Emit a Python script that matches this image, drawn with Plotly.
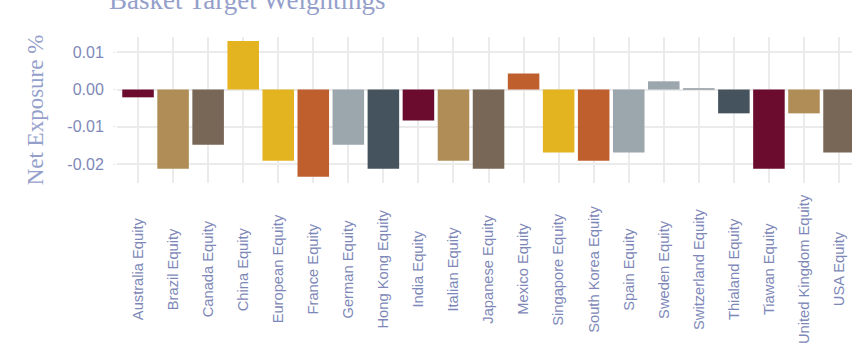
import plotly.graph_objects as go

categories = ["Australia Equity", "Brazil Equity", "Canada Equity", "China Equity",
              "European Equity", "France Equity", "German Equity", "Hong Kong Equity",
              "India Equity", "Italian Equity", "Japanese Equity", "Mexico Equity",
              "Singapore Equity", "South Korea Equity", "Spain Equity", "Sweden Equity",
              "Switzerland Equity", "Thialand Equity", "Tiawan Equity",
              "United Kingdom Equity", "USA Equity"]
values = [-0.0021, -0.0213, -0.0148, 0.0130, -0.0191, -0.0234, -0.0148, -0.0213,
          -0.0083, -0.0191, -0.0213, 0.0043, -0.0169, -0.0191, -0.0169, 0.0022,
          0.0002, -0.0064, -0.0213, -0.0064, -0.0169]
bar_colors = ["#6b0c2e", "#b08d57", "#786656", "#e3b420", "#e3b420", "#c05f2e",
              "#9ba6ad", "#45535e", "#6b0c2e", "#b08d57", "#786656", "#c05f2e",
              "#e3b420", "#c05f2e", "#9ba6ad", "#9ba6ad", "#a9b0b6", "#45535e",
              "#6b0c2e", "#b08d57", "#786656"]
y_tickvals = [0.01, 0.0, -0.01, -0.02]
y_ticktext = ["0.01", "0.00", "-0.01", "-0.02"]

text_color = "#7e88b8"
title_color = "#959fcb"

fig = go.Figure()
fig.add_trace(go.Bar(
    x=list(range(len(categories))), y=values,
    marker=dict(color=bar_colors, line=dict(width=0)),
    width=0.9, showlegend=False, hoverinfo="y",
))

for i, c in enumerate(categories):
    fig.add_annotation(x=i, xref="x", y=-0.59, yref="paper", text=c,
                       textangle=-90, showarrow=False, xanchor="center", yanchor="middle",
                       font=dict(family="Liberation Sans, Arial", size=14.7, color=text_color))

fig.add_annotation(x=0.0, xref="paper", y=1.0, yref="paper", yshift=37,
                   text="Basket Target Weightings", showarrow=False,
                   xanchor="left", yanchor="middle", xshift=-10,
                   font=dict(family="Liberation Serif, serif", size=27, color=title_color))

fig.update_layout(
    width=852, height=343,
    margin=dict(l=117, r=0, t=37, b=160),
    paper_bgcolor="white", plot_bgcolor="white",
    bargap=0.1,
    xaxis=dict(range=[-0.6, 20.37], tickmode="array", tickvals=list(range(len(categories))),
               showticklabels=False, showgrid=True, gridcolor="#ebebeb", gridwidth=1.5,
               zeroline=False, showline=False, fixedrange=True),
    yaxis=dict(range=[-0.0251, 0.0141], tickmode="array", tickvals=y_tickvals,
               ticktext=y_ticktext, showgrid=True, gridcolor="#ebebeb", gridwidth=1.5,
               zeroline=False, showline=False, ticks="outside", ticklen=3, tickcolor="#ebebeb",
               tickfont=dict(family="Liberation Sans, Arial", size=16, color=text_color),
               ticklabelstandoff=6,
               title=dict(text="Net Exposure %", standoff=17,
                          font=dict(family="Liberation Serif, serif", size=23, color=title_color))),
)

fig.write_html("out.html")
